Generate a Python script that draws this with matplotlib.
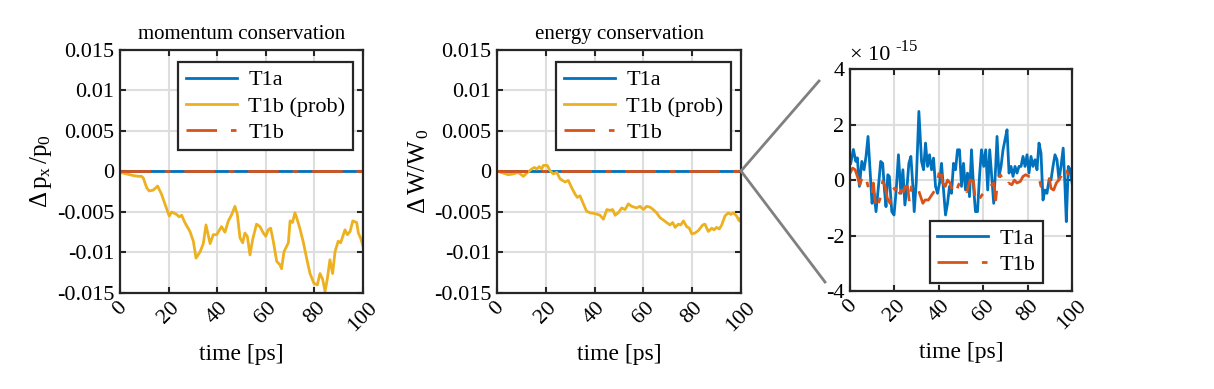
import matplotlib
matplotlib.use("Agg")
import matplotlib.pyplot as plt
import numpy as np
from matplotlib.lines import Line2D

# T1b (prob) - momentum conservation
t_mom = [0, 2.7, 5.5, 7.5, 8.9, 9.6, 11, 12, 13.7, 15.5, 17.1, 18.5, 20.3, 21.3, 23.3, 24.4,
         25.4, 26.7, 28.8, 30.2, 31.3, 33, 34.3, 35.4, 37.1, 38.4, 39.8, 41.8, 43.2, 44.6, 46,
         47.3, 48.3, 49.4, 50.5, 51.4, 52.4, 53.5, 54.6, 56.2, 57.6, 59, 60, 61, 62, 63.1, 64.5,
         65.8, 66.5, 67.5, 69.3, 70, 71, 72, 72.7, 74, 75.5, 76.8, 78.2, 79.8, 81.2, 82.3, 83.4,
         84.4, 85.3, 86.4, 87.5, 88.5, 89.8, 90.8, 92.6, 93.6, 94.7, 95.8, 97.4, 98.1, 99, 100]
dp_prob = [-0.0001, -0.0003, -0.0005, -0.0006, -0.0006, -0.0008, -0.002, -0.0024, -0.0023,
           -0.0018, -0.0028, -0.004, -0.0055, -0.005, -0.0053, -0.0056, -0.0054, -0.0063,
           -0.0074, -0.0086, -0.0107, -0.0099, -0.0089, -0.0066, -0.0089, -0.0078, -0.0078,
           -0.0068, -0.0075, -0.0061, -0.0053, -0.0043, -0.0053, -0.0082, -0.0088, -0.0076,
           -0.008, -0.0103, -0.0084, -0.0065, -0.0068, -0.0076, -0.008, -0.0072, -0.007,
           -0.0086, -0.0111, -0.0115, -0.012, -0.0099, -0.0088, -0.0061, -0.0063, -0.0051,
           -0.0057, -0.007, -0.0088, -0.0107, -0.0126, -0.0138, -0.014, -0.0126, -0.0133,
           -0.0148, -0.0133, -0.0109, -0.0126, -0.0099, -0.0086, -0.0088, -0.0072, -0.0078,
           -0.0074, -0.0061, -0.0063, -0.0076, -0.0082, -0.0092]

# T1b (prob) - energy conservation
t_en = [0.5, 2.6, 4.6, 6.7, 8.7, 10.8, 12.2, 14.2, 15.3, 16.3, 17.3, 18.3, 19, 20.6, 21.7,
        23.1, 24.5, 25.8, 27.9, 29.2, 30.6, 32, 32.9, 34, 35.4, 36.7, 38.1, 40.2, 42.2, 43.6,
        45, 46.3, 47.4, 48.4, 49.7, 51.1, 52.5, 53.8, 55.2, 57.2, 58.6, 60, 61.3, 62.7, 64,
        65.4, 66.8, 68.2, 69.5, 70.9, 72, 73, 74.3, 75.3, 76.4, 77.7, 78.8, 79.8, 81.1, 82.5,
        84.3, 85.2, 86.6, 88, 88.9, 90, 91.1, 92.1, 93.4, 94.8, 95.8, 96.9, 98.2, 99.3, 100]
dw_prob = [0, -0.0002, -0.0004, -0.0003, -0.0001, -0.0006, -0.0002, 0.0003, 0.0005, 0.0003,
           0.0006, 0.0003, 0.00075, 0.00075, 0.0001, -0.0003, -0.0001, -0.0009, -0.0013,
           -0.0011, -0.002, -0.0028, -0.0032, -0.003, -0.004, -0.0049, -0.0051, -0.0052,
           -0.0054, -0.0059, -0.0047, -0.0048, -0.0047, -0.0054, -0.0051, -0.0045, -0.0047,
           -0.004, -0.0043, -0.0045, -0.0043, -0.0047, -0.0043, -0.0044, -0.0047, -0.0051,
           -0.0057, -0.006, -0.0063, -0.0066, -0.0063, -0.0069, -0.0065, -0.0066, -0.0061,
           -0.0068, -0.007, -0.0077, -0.0076, -0.0073, -0.0066, -0.0065, -0.0074, -0.007,
           -0.0072, -0.0069, -0.0071, -0.0066, -0.0055, -0.0051, -0.0053, -0.0051, -0.0055,
           -0.0061, -0.0057]

# T1a / T1b errors (units of 1e-15)
t_a = [0.3, 1.5, 2.6, 3.3, 4.2, 5.3, 6.3, 7.2, 8.1, 9, 9.9, 10.8, 11.7, 12.8, 13.8, 14.7,
       15.5, 16.2, 17, 17.7, 18.8, 19.8, 20.8, 21.8, 22.9, 23.8, 24.7, 25.6, 26.5, 27.4, 28.3,
       28.9, 29.8, 31, 32.2, 33.1, 34, 34.9, 35.8, 36.7, 37.6, 38.5, 39.4, 40.3, 41.2, 42.1,
       43, 43.9, 44.8, 45.7, 46.6, 47.5, 48.4, 49.3, 50.2, 51.1, 52, 52.9, 53.8, 54.7, 55.6,
       56.5, 57.4, 58.3, 59.2, 60.2, 61.1, 62, 62.9, 63.8, 64.7, 65.6, 66.2, 67.1, 68, 68.9,
       69.8, 70.7, 71.6, 72.5, 73.4, 74.3, 75.2, 76.1, 77, 77.9, 78.8, 79.7, 80.6, 81.5, 82.4,
       83.3, 84.2, 85.1, 86, 86.9, 87.8, 88.7, 89.6, 90.5, 91.4, 92.3, 93.2, 94.1, 95, 96,
       96.8, 97.4, 98.3, 99.2, 100]
err_a = [0.6, 1.1, 0.67, 0.8, -0.23, 0.67, 0.37, 0.85, 1.57, 0.37, -0.84, -0.48, -1.14,
         -0.23, 0.67, 0.6, -0.36, -0.96, 0.19, 0.13, -1.14, -1.26, -0.36, 0.91, -0.48, 0.37,
         -0.9, -0.3, 0.6, 0.85, -0.23, -1.14, -0.11, 2.47, 0.67, 0.37, 1.33, 0.49, 0.91, 0.37,
         0.79, -0.23, -0.48, -0.11, 0.6, -0.36, -1.26, -0.84, -0.23, -0.48, 0.6, 0.37, 1.09,
         1.09, -0.23, 0.6, -0.36, 0.25, -0.6, 1.09, -0.23, -1.14, -1.14, 0.13, 1.09, 0.49,
         1.09, -0.36, 1.09, 0.13, -0.84, 0.49, 1.57, 0.13, 0.49, 1.09, 1.45, 1.81, 0.25, 0.49,
         0.13, 0.49, 0.25, 0.49, 0.49, 0.85, 0.49, 0.91, 0.25, 0.85, 0.49, 0.73, 0.37, 1.33,
         0.97, -0.72, -0.36, -0.48, 0, 0, 0.49, 0.91, 0.73, 0, 0.49, 1.15, -0.23, -1.5, 0.49,
         0.37, -0.11]

t_b = [0, 1.2, 2.3, 3.3, 4.5, 5.7, 6.8, 8.7, 9.8, 10.5, 11.7, 12.8, 13.8, 14.7, 15.8, 16.8,
       18, 19.2, 20.3, 21.4, 22.3, 23.2, 24.1, 24.9, 25.9, 26.8, 27.7, 28.6, 29.8, 30.8, 32.8,
       33.8, 35.3, 36.8, 38.3, 39.8, 40.6, 41.7, 42.9, 43.9, 45.1, 46.6, 47.8, 48.9, 49.9,
       51.1, 52.6, 54.1, 55.6, 56.5, 57.9, 59.4, 60.9, 61.7, 63.2, 64.7, 65.6, 66.5, 67.7,
       69.2, 70.4, 71.4, 72.9, 74, 75.2, 76.7, 77.9, 79.1, 80.6, 82.1, 83.5, 85, 86, 87.2,
       88.4, 89.6, 90.5, 91.7, 92.9, 94, 95.5, 97, 98.5, 100]
err_b = [0.25, 0.43, 0.37, 0.13, -0.17, 0.19, 0.19, -0.42, -0.6, -0.11, -1.08, -0.84, -0.6,
         -0.05, -0.23, -0.66, -0.84, -0.23, -0.36, -0.11, -0.48, -0.36, -0.42, -0.23, -0.23,
         -0.84, -0.23, -0.17, -0.42, -0.36, -0.84, -0.72, -0.72, -0.54, -0.36, 0.13, 0.49,
         -0.11, -0.23, 0, -0.11, -0.54, -0.42, -0.17, -0.05, -0.23, -0.42, 0, -0.05, -0.84,
         -0.72, -0.54, -0.42, -0.48, -0.23, -0.11, -0.72, 0, 0.19, -0.05, -0.23, -0.11, -0.17,
         0, -0.11, -0.05, 0.13, 0.19, 0.13, 0.13, 0.13, 0.13, -0.23, -0.11, -0.05, 0.13, -0.3,
         -0.36, -0.11, 0, 0.19, 0.49, 0.13, 0]

xticks = [0, 20, 40, 60, 80, 100]
yticks_main = [-0.015, -0.01, -0.005, 0, 0.005, 0.01, 0.015]
ylabels_main = ["-0.015", "-0.01", "-0.005", "0", "0.005", "0.01", "0.015"]
yticks_zoom = [-4, -2, 0, 2, 4]

BLUE = "#0072BD"
ORANGE = "#D95319"
YELLOW = "#EDB120"
DASHDOT = (0, (11, 5, 2, 5))

plt.rcParams["font.family"] = ["Liberation Serif", "DejaVu Serif"]
plt.rcParams["font.size"] = 16
plt.rcParams["mathtext.fontset"] = "custom"
plt.rcParams["mathtext.rm"] = "Liberation Serif"
plt.rcParams["mathtext.it"] = "Liberation Serif:italic"
plt.rcParams["axes.unicode_minus"] = False

fig = plt.figure(figsize=(12.14, 3.89), dpi=100)
ax1 = fig.add_axes([0.0988, 0.2468, 0.2002, 0.6247])
ax2 = fig.add_axes([0.4094, 0.2468, 0.2010, 0.6247])
ax3 = fig.add_axes([0.7002, 0.2519, 0.1829, 0.5707])

ea = np.array(err_a) * 1e-15
eb = np.array(err_b) * 1e-15


def style(ax):
    ax.grid(True, color="#dedede", lw=1.5)
    ax.set_axisbelow(True)
    for s in ax.spines.values():
        s.set_linewidth(1.6)
        s.set_color("#262626")
    ax.tick_params(direction="in", length=4, width=1.5, top=True, right=True,
                   color="#262626", labelsize=16, pad=4)
    ax.set_xlim(0, 100)
    ax.set_xticks(xticks)
    ax.set_xticklabels([str(v) for v in xticks], rotation=45, ha="center", va="top")
    ax.set_xlabel("time [ps]", fontsize=17, labelpad=6)


def legend(ax, **kw):
    leg = ax.legend(fancybox=False, framealpha=1, edgecolor="#262626", handlelength=2.3,
                    handletextpad=0.5, borderpad=0.35, labelspacing=0.25, fontsize=16,
                    borderaxespad=0, **kw)
    leg.get_frame().set_linewidth(1.6)


for ax, tp, yp, title, ylab in [
    (ax1, t_mom, dp_prob, "momentum conservation", r"$\mathrm{\Delta\, p_x\, /p_0}$"),
    (ax2, t_en, dw_prob, "energy conservation", r"$\mathrm{\Delta\, W/W_{\,0}}$"),
]:
    ax.plot(t_a, ea, color=BLUE, lw=2, label="T1a")
    ax.plot(tp, yp, color=YELLOW, lw=2, label="T1b (prob)")
    ax.plot(t_b, eb, color=ORANGE, lw=2, ls=DASHDOT, label="T1b")
    ax.set_ylim(-0.015, 0.015)
    ax.set_yticks(yticks_main)
    ax.set_yticklabels(ylabels_main)
    ax.set_title(title, fontsize=15, pad=8)
    ax.set_ylabel(ylab, fontsize=18, labelpad=2)
    style(ax)
    legend(ax, loc="upper right", bbox_to_anchor=(0.96, 0.95))

ax3.plot(t_a, ea, color=BLUE, lw=2, label="T1a")
ax3.plot(t_b, eb, color=ORANGE, lw=2, ls=DASHDOT, label="T1b")
ax3.set_ylim(-4e-15, 4e-15)
ax3.set_yticks([v * 1e-15 for v in yticks_zoom])
ax3.set_yticklabels([str(v) for v in yticks_zoom])
style(ax3)
legend(ax3, loc="lower right", bbox_to_anchor=(0.87, 0.036))
ax3.text(0.0, 1.02, "× 10", transform=ax3.transAxes, fontsize=16, ha="left", va="bottom")
ax3.text(0.205, 1.065, "-15", transform=ax3.transAxes, fontsize=12, ha="left", va="bottom")

# zoom connector lines
W, H = 1214, 389
for x1, y1 in [(819, 81), (825, 282)]:
    fig.add_artist(Line2D([741 / W, x1 / W], [1 - 171 / H, 1 - y1 / H],
                          transform=fig.transFigure, color="#808080", lw=2))

fig.savefig("out.png", dpi=100)
